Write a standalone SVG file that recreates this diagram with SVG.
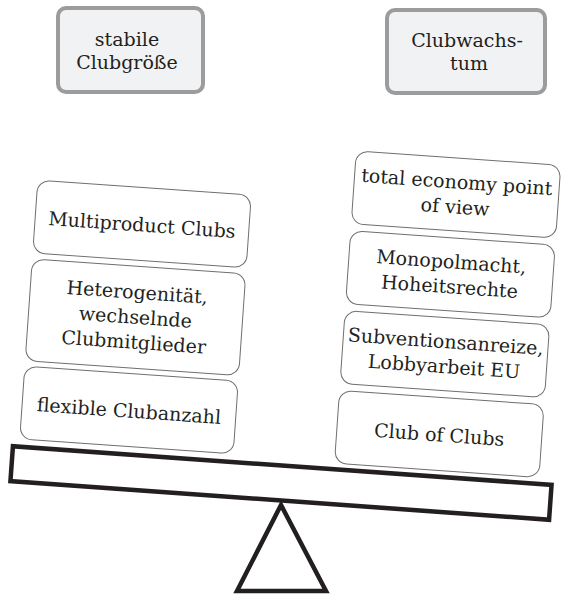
<svg xmlns="http://www.w3.org/2000/svg" width="563" height="594" viewBox="0 0 563 594">
  <style>
    .hdr rect { fill: #f1f2f4; stroke: #9c9c9c; stroke-width: 4; }
    .box rect { fill: #ffffff; stroke: #6f6f6f; stroke-width: 1; }
    .beam { fill: #ffffff; stroke: #231f20; stroke-width: 4.5; stroke-linejoin: miter; }
  </style>
  <rect width="563" height="594" fill="#ffffff"/>

  <g font-family="DejaVu Serif, Liberation Serif, serif" font-size="19" fill="#231f20" text-anchor="middle">
  <g id="stabile-clubgroesse" class="hdr">
    <rect x="58" y="8" width="145" height="84" rx="8"/>
    <text x="127" y="46">stabile</text>
    <text x="127" y="69">Clubgröße</text>
  </g>
  <g id="clubwachstum" class="hdr">
    <rect x="387" y="10" width="158" height="83" rx="8"/>
    <text x="467" y="47">Clubwachs-</text>
    <text x="469" y="70">tum</text>
  </g>

  <g transform="translate(142,224) rotate(4)">
    <g id="multiproduct-clubs" class="box">
      <rect x="-107" y="-36.5" width="214" height="73" rx="12"/>
      <text x="0" y="7.5">Multiproduct Clubs</text>
    </g>
    <g id="heterogenitaet" class="box">
      <rect x="-107" y="42.5" width="214" height="102" rx="12"/>
      <text x="0" y="75">Heterogenität,</text>
      <text x="0" y="100">wechselnde</text>
      <text x="0" y="125">Clubmitglieder</text>
    </g>
    <g id="flexible-clubanzahl" class="box">
      <rect x="-107" y="150" width="214" height="73" rx="12"/>
      <text x="0" y="194">flexible Clubanzahl</text>
    </g>
  </g>

  <g transform="translate(456,194.5) rotate(4)">
    <g id="total-economy" class="box">
      <rect x="-102.5" y="-36.5" width="205" height="73" rx="12"/>
      <text x="0" y="-6">total economy point</text>
      <text x="0" y="19">of view</text>
    </g>
    <g id="monopolmacht" class="box">
      <rect x="-102.5" y="43.5" width="205" height="73" rx="12"/>
      <text x="0" y="74">Monopolmacht,</text>
      <text x="0" y="99">Hoheitsrechte</text>
    </g>
    <g id="subventionsanreize" class="box">
      <rect x="-102.5" y="123.5" width="205" height="73" rx="12"/>
      <text x="0" y="154">Subventionsanreize,</text>
      <text x="0" y="179">Lobbyarbeit EU</text>
    </g>
    <g id="club-of-clubs" class="box">
      <rect x="-102.5" y="203.5" width="205" height="73" rx="12"/>
      <text x="0" y="247.5">Club of Clubs</text>
    </g>
  </g>
  </g>

  <g id="seesaw">
    <rect class="beam" x="-270" y="-17.5" width="540" height="35" transform="translate(281,483) rotate(4.1)"/>
    <polygon class="beam" points="281,505 237,591 326,591"/>
  </g>
</svg>
